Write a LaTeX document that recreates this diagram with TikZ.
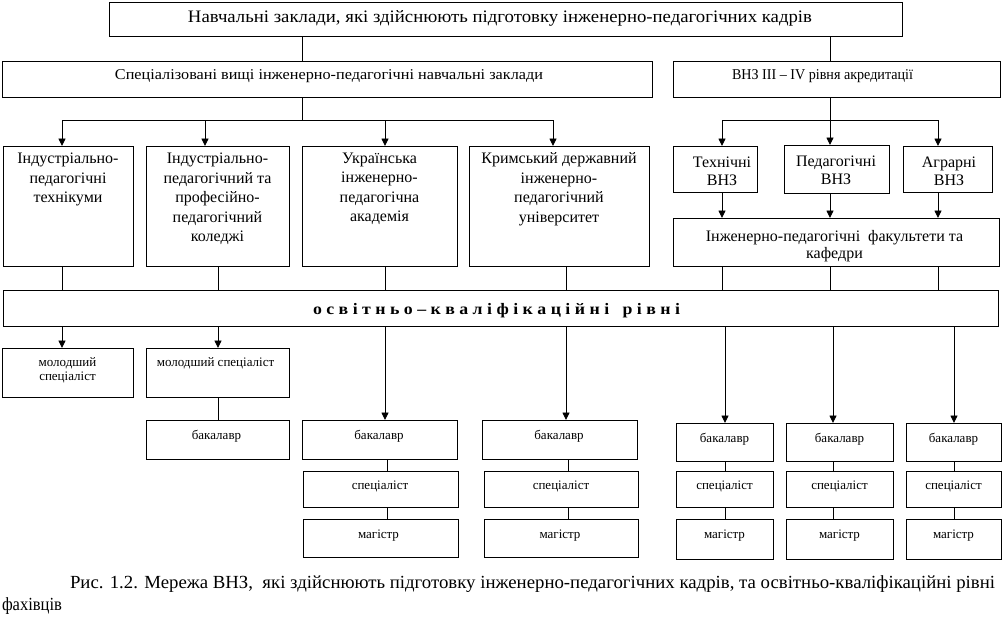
\documentclass[tikz,border=0pt]{standalone}
\usepackage{fontspec}
\usepackage{graphicx}
\setmainfont{Liberation Serif}
\usetikzlibrary{arrows.meta}
\newcommand{\fw}[2]{\resizebox{#1}{\height}{#2}}
\begin{document}
\begin{tikzpicture}[x=1pt,y=-1pt, line width=0.9pt,
  box/.style={draw, rectangle, inner sep=0pt, outer sep=0pt},
  txt/.style={inner sep=0pt, outer sep=0pt, align=center},
  arr/.style={-{Triangle[length=7.5pt,width=7pt]}},
  big/.style={font=\fontsize{16}{19.5}\selectfont},
  mid/.style={font=\fontsize{16}{18}\selectfont},
  small/.style={font=\fontsize{13}{14}\selectfont}]
\useasboundingbox (0,0) rectangle (1005,629);

% ---------- boxes ----------
\node[box, minimum width=793pt, minimum height=34pt] (top) at (505.5,19) {};
\node[box, minimum width=650pt, minimum height=36pt] (spec) at (327,79) {};
\node[box, minimum width=327pt, minimum height=36pt] (vnz) at (836.5,79) {};

\node[box, minimum width=130pt, minimum height=120pt] (b1) at (68,206) {};
\node[box, minimum width=143pt, minimum height=120pt] (b2) at (217.5,206) {};
\node[box, minimum width=155pt, minimum height=120pt] (b3) at (379.5,206) {};
\node[box, minimum width=180pt, minimum height=120pt] (b4) at (559,206) {};

\node[box, minimum width=84pt, minimum height=46pt] (tech) at (715,169) {};
\node[box, minimum width=105pt, minimum height=48pt] (ped) at (836.5,169) {};
\node[box, minimum width=89pt, minimum height=46pt] (agr) at (947.5,169) {};
\node[box, minimum width=326pt, minimum height=48pt] (ipf) at (836,242) {};

\node[box, minimum width=995pt, minimum height=36pt] (osv) at (500.5,308) {};

\node[box, minimum width=131pt, minimum height=49pt] (m1) at (67.5,372.5) {};
\node[box, minimum width=143pt, minimum height=49pt] (m2) at (217.5,372.5) {};
\node[box, minimum width=143pt, minimum height=39pt] (c2b) at (217.5,439.5) {};

\node[box, minimum width=155pt, minimum height=39pt] (c3b) at (379.5,439.5) {};
\node[box, minimum width=155pt, minimum height=36pt] (c3s) at (380.5,489) {};
\node[box, minimum width=155pt, minimum height=38pt] (c3m) at (380.5,538) {};

\node[box, minimum width=155pt, minimum height=39pt] (c4b) at (559.5,439.5) {};
\node[box, minimum width=154pt, minimum height=36pt] (c4s) at (561,489) {};
\node[box, minimum width=154pt, minimum height=38pt] (c4m) at (561,538) {};

\node[box, minimum width=97pt, minimum height=38pt] (c5b) at (724.5,442) {};
\node[box, minimum width=97pt, minimum height=36pt] (c5s) at (724.5,489) {};
\node[box, minimum width=97pt, minimum height=40pt] (c5m) at (724.5,539) {};

\node[box, minimum width=107pt, minimum height=38pt] (c6b) at (839.5,442) {};
\node[box, minimum width=107pt, minimum height=36pt] (c6s) at (839.5,489) {};
\node[box, minimum width=107pt, minimum height=40pt] (c6m) at (839.5,539) {};

\node[box, minimum width=95pt, minimum height=38pt] (c7b) at (953.5,442) {};
\node[box, minimum width=95pt, minimum height=36pt] (c7s) at (953.5,489) {};
\node[box, minimum width=95pt, minimum height=40pt] (c7m) at (953.5,539) {};

% ---------- texts ----------
\node[txt, anchor=base, font=\fontsize{17.5}{20}\selectfont] (topt) at (500,22.5)
  {\fw{624pt}{Навчальні заклади, які здійснюють підготовку інженерно-педагогічних кадрів}};
\node[txt, anchor=base, font=\fontsize{15}{18}\selectfont] (spect) at (329,79)
  {\fw{428pt}{Спеціалізовані вищі інженерно-педагогічні навчальні заклади}};
\node[txt, anchor=base, font=\fontsize{15}{18}\selectfont] (vnzt) at (822.5,79)
  {\fw{181pt}{ВНЗ ІІІ – IV рівня акредитації}};

\node[txt, big, anchor=north] (b1t) at (68,153) {Індустріально-\\педагогічні\\технікуми};
\node[txt, big, anchor=north] (b2t) at (217.5,153) {Індустріально-\\педагогічний та\\професійно-\\педагогічний\\коледжі};
\node[txt, big, anchor=north] (b3t) at (379.5,153) {Українська\\інженерно-\\педагогічна\\академія};
\node[txt, big, anchor=north] (b4t) at (559,153) {Кримський державний\\інженерно-\\педагогічний\\університет};

\node[txt, mid, anchor=north] (techt) at (722,157.4) {Технічні\\ВНЗ};
\node[txt, mid, anchor=north] (pedt) at (836,156.4) {Педагогічні\\ВНЗ};
\node[txt, mid, anchor=north] (agrt) at (949,157.4) {Аграрні\\ВНЗ};
\node[txt, font=\fontsize{16}{17.5}\selectfont, anchor=north] (ipft) at (834.5,230)
  {Інженерно-педагогічні\ \ факультети та\\кафедри};

\node[txt, anchor=base, font=\fontsize{16}{18}\selectfont\bfseries] (osvt) at (496.5,314)
  {\fw{367pt}{о с в і т н ь о – к в а л і ф і к а ц і й н і \ \ р і в н і}};

\node[txt, small, anchor=north] (m1t) at (67.5,358) {молодший\\спеціаліст};
\node[txt, small, anchor=base] (m2t) at (215.5,366) {молодший спеціаліст};
\node[txt, small, anchor=base] (c2bt) at (216.5,439) {бакалавр};

\node[txt, small, anchor=base] (c3bt) at (379,439) {бакалавр};
\node[txt, small, anchor=base] (c3st) at (380,489) {спеціаліст};
\node[txt, small, anchor=base] (c3mt) at (378.5,538) {магістр};

\node[txt, small, anchor=base] (c4bt) at (559,439) {бакалавр};
\node[txt, small, anchor=base] (c4st) at (561,489) {спеціаліст};
\node[txt, small, anchor=base] (c4mt) at (560,538) {магістр};

\node[txt, small, anchor=base] (c5bt) at (724.5,442) {бакалавр};
\node[txt, small, anchor=base] (c5st) at (724.5,489) {спеціаліст};
\node[txt, small, anchor=base] (c5mt) at (724.5,538) {магістр};

\node[txt, small, anchor=base] (c6bt) at (839.5,442) {бакалавр};
\node[txt, small, anchor=base] (c6st) at (839.5,489) {спеціаліст};
\node[txt, small, anchor=base] (c6mt) at (839.5,538) {магістр};

\node[txt, small, anchor=base] (c7bt) at (953.5,442) {бакалавр};
\node[txt, small, anchor=base] (c7st) at (953.5,489) {спеціаліст};
\node[txt, small, anchor=base] (c7mt) at (953.5,538) {магістр};

\node[txt, align=left, anchor=north west, font=\fontsize{18.5}{22}\selectfont] (cap) at (2,575.5)
  {\hspace*{68pt}\fw{925pt}{Рис. 1.2. Мережа ВНЗ,\ \ які здійснюють підготовку інженерно-педагогічних кадрів, та освітньо-кваліфікаційні рівні}\\\fw{60pt}{фахівців}};

% ---------- column coordinates ----------
\coordinate (xA) at (62,0);
\coordinate (xB) at (205,0);
\coordinate (xB2) at (218,0);
\coordinate (xC) at (385,0);
\coordinate (xC2) at (387,0);
\coordinate (xD) at (553,0);
\coordinate (xD2) at (566,0);
\coordinate (xD3) at (568,0);
\coordinate (xT) at (302,0);
\coordinate (xE) at (722,0);
\coordinate (xF) at (830,0);
\coordinate (xG) at (938,0);
\coordinate (xH) at (725,0);
\coordinate (xI) at (833,0);
\coordinate (xJ) at (954,0);
\coordinate (busL) at (62,120);
\coordinate (busM) at (302,120);
\coordinate (busR) at (553,120);
\coordinate (bus2L) at (722,120);
\coordinate (bus2M) at (830,120);
\coordinate (bus2R) at (938,120);

% ---------- connectors ----------
\draw (top.south -| xT) -- (spec.north -| xT);
\draw (top.south -| xF) -- (vnz.north -| xF);

\draw (spec.south -| xT) -- (busM);
\draw (busL) -- (busR);
\draw[arr] (busL) -- (b1.north -| xA);
\draw[arr] (busL -| xB) -- (b2.north -| xB);
\draw[arr] (busL -| xC) -- (b3.north -| xC);
\draw[arr] (busR) -- (b4.north -| xD);

\draw (vnz.south -| xF) -- (bus2M);
\draw (bus2L) -- (bus2R);
\draw[arr] (bus2L) -- (tech.north -| xE);
\draw[arr] (bus2M) -- (ped.north -| xF);
\draw[arr] (bus2R) -- (agr.north -| xG);

\draw[arr] (tech.south -| xE) -- (ipf.north -| xE);
\draw[arr] (ped.south -| xF) -- (ipf.north -| xF);
\draw[arr] (agr.south -| xG) -- (ipf.north -| xG);

\draw (b1.south -| xA) -- (osv.north -| xA);
\draw (b2.south -| xB2) -- (osv.north -| xB2);
\draw (b3.south -| xC) -- (osv.north -| xC);
\draw (b4.south -| xD2) -- (osv.north -| xD2);
\draw (ipf.south -| xE) -- (osv.north -| xE);
\draw (ipf.south -| xF) -- (osv.north -| xF);
\draw (ipf.south -| xG) -- (osv.north -| xG);

\draw[arr] (osv.south -| xA) -- (m1.north -| xA);
\draw[arr] (osv.south -| xB2) -- (m2.north -| xB2);
\draw[arr] (osv.south -| xC) -- (c3b.north -| xC);
\draw[arr] (osv.south -| xD2) -- (c4b.north -| xD2);
\draw[arr] (osv.south -| xH) -- (c5b.north -| xH);
\draw[arr] (osv.south -| xI) -- (c6b.north -| xI);
\draw[arr] (osv.south -| xJ) -- (c7b.north -| xJ);

\draw (m2.south -| xB2) -- (c2b.north -| xB2);
\draw (c3b.south -| xC2) -- (c3s.north -| xC2);
\draw (c3s.south -| xC2) -- (c3m.north -| xC2);
\draw (c4b.south -| xD3) -- (c4s.north -| xD3);
\draw (c4s.south -| xD3) -- (c4m.north -| xD3);
\draw (c5b.south -| xH) -- (c5s.north -| xH);
\draw (c5s.south -| xH) -- (c5m.north -| xH);
\draw (c6b.south -| xI) -- (c6s.north -| xI);
\draw (c6s.south -| xI) -- (c6m.north -| xI);
\draw (c7b.south -| xJ) -- (c7s.north -| xJ);
\draw (c7s.south -| xJ) -- (c7m.north -| xJ);
\end{tikzpicture}
\end{document}
